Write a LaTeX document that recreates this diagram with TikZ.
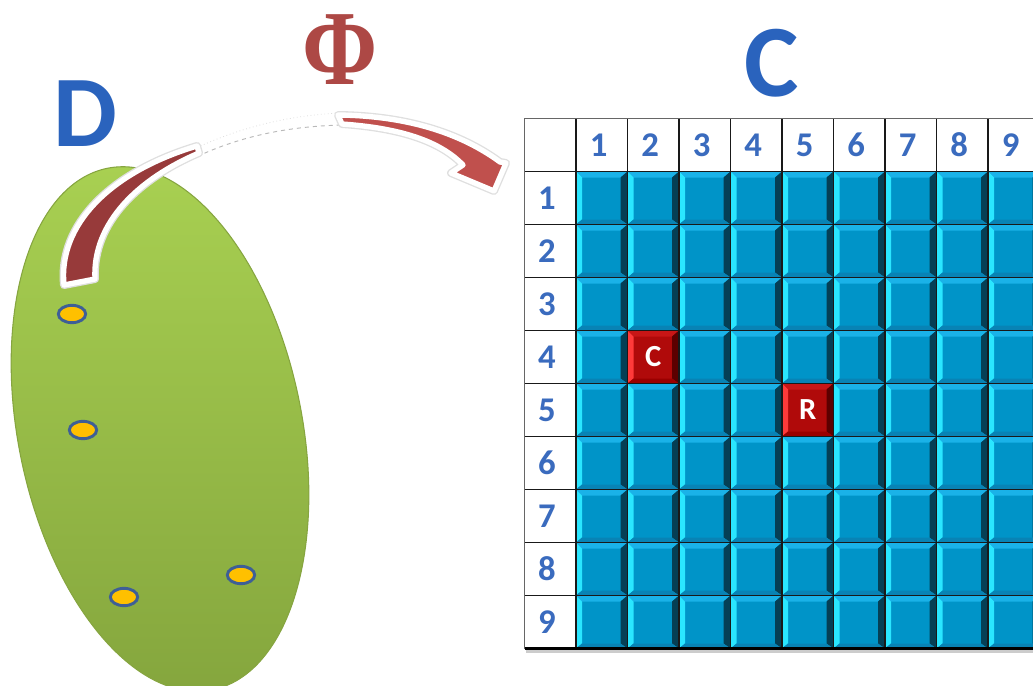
\documentclass[tikz,border=0pt]{standalone}
\usepackage{fontspec}
\setmainfont{Carlito}
\newfontfamily\phifont{Liberation Serif}
\usetikzlibrary{shapes.geometric}
\definecolor{greenA}{HTML}{A9D152}
\definecolor{greenB}{HTML}{84A53D}
\definecolor{greenEdge}{HTML}{86A540}
\definecolor{dotFill}{HTML}{FFC000}
\definecolor{dotEdge}{HTML}{3E5F96}
\definecolor{arrDark}{HTML}{973A3A}
\definecolor{arrLight}{HTML}{C0504D}
\definecolor{titleBlue}{HTML}{2A63BD}
\definecolor{numBlue}{HTML}{3A6BBE}
\definecolor{bFace}{HTML}{0094C8}
\definecolor{bTop}{HTML}{1AB2E8}
\definecolor{bLeft}{HTML}{2AE6FF}
\definecolor{bRight}{HTML}{053F55}
\definecolor{bBot}{HTML}{0883B5}
\definecolor{rFace}{HTML}{B00A0A}
\definecolor{rTop}{HTML}{C81616}
\definecolor{rLeft}{HTML}{FF3A3A}
\definecolor{rRight}{HTML}{5C0000}
\definecolor{rBot}{HTML}{9A0000}
\newcommand\bevcell[7]{%
  \fill[#3] (#1,#2) rectangle ++(51.5,53);
  \fill[#4] (#1,#2) -- ++(51.5,0) -- ++(-7,6) -- ++(-38.5,0) -- cycle;
  \fill[#5] (#1,#2) -- ++(6,6) -- ++(0,42) -- ++(-6,5) -- cycle;
  \fill[#6] ({#1+51.5},#2) -- ++(0,53) -- ++(-7,-5) -- ++(0,-42) -- cycle;
  \fill[#7] (#1,{#2+53}) -- ++(6,-5) -- ++(38.5,0) -- ++(7,5) -- cycle;
}
\tikzset{
  numlab/.style={inner sep=0pt, text=numBlue, font=\bfseries\fontsize{26}{26}\selectfont},
  celllab/.style={inner sep=0pt, text=white, font=\bfseries\fontsize{23}{23}\selectfont},
  dot/.style={ellipse, draw=dotEdge, fill=dotFill, line width=2.2pt, minimum width=20.5pt, minimum height=13pt, inner sep=0pt},
  gridline/.style={draw=black!90, line width=1.1pt},
}
\begin{document}
\begin{tikzpicture}[x=0.75pt,y=-0.75pt]
\useasboundingbox (0,0) rectangle (1033,686);
% ---- domain D
\node[ellipse, minimum width=213pt, minimum height=399pt, rotate=11.4,
      top color=greenA, bottom color=greenB, draw=greenEdge, line width=0.8pt]
      (dom) at (160,429) {};
\node[dot] (d1) at (72,314) {};
\node[dot] (d2) at (83,430) {};
\node[dot] (d3) at (124,597) {};
\node[dot] (d4) at (241,575) {};
\node[inner sep=0pt, text=titleBlue, font=\bfseries\fontsize{76}{76}\selectfont] (Dlab) at (85,114) {D};
% ---- arrow Phi
\coordinate (arrTail) at (79,282);
\coordinate (arrTip) at (494,191);
% faded middle
\path[fill=white] (193,147) .. controls (240,126) and (290,116) .. (342,114) -- (345,125) .. controls (297,125) and (247,135) .. (190,160) -- cycle;
\draw[gray!55, dashed, line width=0.7pt] (190,160) .. controls (230,140) and (280,126) .. (345,125);
\draw[gray!25, dotted, line width=0.6pt] (182,155) .. controls (230,130) and (285,115) .. (342,113);
% dark tail part
\path[draw=gray!25, line width=6, line join=round] (64,285) .. controls (58,225) and (110,172) .. (197,146) -- (199,153) .. controls (140,178) and (92,222) .. (95,279) -- cycle;
\path[draw=white, line width=4, line join=round, fill=arrDark] (64,285) .. controls (58,225) and (110,172) .. (197,146) -- (199,153) .. controls (140,178) and (92,222) .. (95,279) -- cycle;
% light head part
\path[draw=gray!25, line width=6, line join=round] (338,115) .. controls (420,116) and (470,140) .. (500,162) -- (506,163) -- (arrTip) -- (451,173) -- (463,165) .. controls (440,141) and (400,128) .. (342,124) -- cycle;
\path[draw=white, line width=4, line join=round, fill=arrLight] (338,115) .. controls (420,116) and (470,140) .. (500,162) -- (506,163) -- (arrTip) -- (451,173) -- (463,165) .. controls (440,141) and (400,128) .. (342,124) -- cycle;
\node[inner sep=0pt, text=arrLight!90!black, font=\phifont\bfseries\fontsize{80}{80}\selectfont, xscale=0.85] (phi) at (340,50) {Φ};
% ---- codomain C
\node[inner sep=0pt, text=titleBlue, font=\bfseries\fontsize{77}{77}\selectfont] (Clab) at (772,63) {C};
% header cells
\fill[white] (524.5,118.5) rectangle (1033,171.5);
\fill[white] (524.5,118.5) rectangle (576,648.5);
% cells
\foreach \r in {1,...,9} {
  \foreach \c in {1,...,9} {
    \pgfmathsetmacro\xa{524.5+51.5*\c}
    \pgfmathsetmacro\ya{118.5+53*\r}
    \bevcell{\xa}{\ya}{bFace}{bTop}{bLeft}{bRight}{bBot}
  }
}
\bevcell{627.5}{330.5}{rFace}{rTop}{rLeft}{rRight}{rBot}
\bevcell{782}{383.5}{rFace}{rTop}{rLeft}{rRight}{rBot}
\node[celllab] (cellC) at (653.25,357) {C};
\node[celllab] (cellR) at (807.75,410) {R};
% grid lines
\foreach \r in {1,...,9} {
  \draw[gridline] (524.5,{118.5+53*\r}) -- (1033,{118.5+53*\r});
}
\foreach \c in {1,...,9} {
  \draw[gridline] ({524.5+51.5*\c},118.5) -- ({524.5+51.5*\c},648.5);
}
\draw[gray!80!black, line width=1.2pt] (524.5,648.5) -- (524.5,118.5) -- (1033,118.5);
\draw[gray!40, line width=2.5pt] (526,651.5) -- (1033,651.5);
\draw[black, line width=2pt] (524.5,648.5) -- (1033,648.5);
% labels
\foreach \k in {1,...,9} {
  \node[numlab] (col\k) at ({524.5+51.5*\k+22.75},145) {\k};
  \node[numlab] (row\k) at (547,{118.5+53*\k+26.5}) {\k};
}
\end{tikzpicture}
\end{document}
